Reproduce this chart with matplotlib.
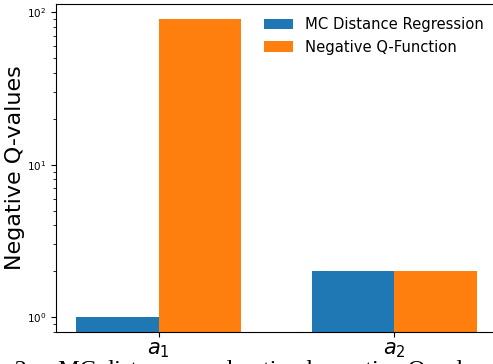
import numpy as np
import matplotlib.pyplot as plt

actions = ["$a_1$", "$a_2$"]
mc_distance = [1.0, 2.0]
neg_q = [90.0, 2.0]

fig = plt.figure(figsize=(4.93, 3.64), dpi=100)
ax = fig.add_axes([56 / 493, 32 / 364, (497 - 56) / 493, (332 - 4) / 364])

x = np.arange(len(actions))
width = 0.35
ax.bar(x - width / 2, mc_distance, width, label="MC Distance Regression", color="#1f77b4")
ax.bar(x + width / 2, neg_q, width, label="Negative Q-Function", color="#ff7f0e")
ax.set_yscale("log")
ax.set_ylim(0.8, 113)
ax.set_xticks(x)
ax.set_xticklabels(actions, fontsize=15)
ax.tick_params(axis="x", pad=2.5)
ax.tick_params(axis="y", labelsize=7.5)
ax.set_ylabel("Negative Q-values", fontsize=16)
ax.yaxis.set_label_coords(-0.070, 0.5)
ax.legend(loc="upper right", frameon=False, fontsize=10.6)

# caption of the paper figure, cut off by the crop
fig.text(-0.112, -0.033, "Figure 2:    MC distances and optimal negative Q-values",
         family="Liberation Serif", fontsize=17.5, ha="left", va="baseline")

fig.savefig("out.png", dpi=100)
